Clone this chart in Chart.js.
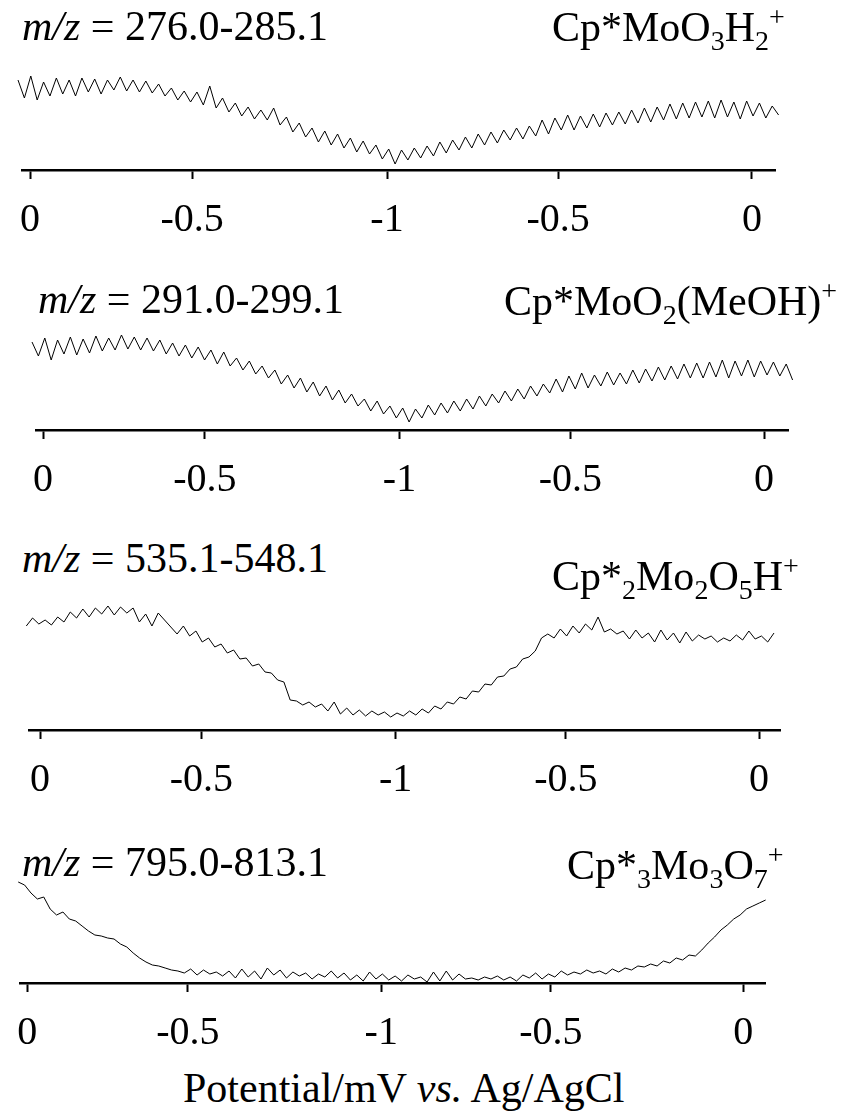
<!DOCTYPE html>
<html>
<head>
<meta charset="utf-8">
<script src="https://cdn.jsdelivr.net/npm/chart.js@4.4.1/dist/chart.umd.min.js"></script>
<style>
  body { margin: 0; background: #fff; }
  #page { position: relative; width: 844px; height: 1111px; overflow: hidden; background: #fff;
          font-family: "Liberation Serif", "Times New Roman", serif; color: #000; }
  canvas { position: absolute; left: 0; }
  .lbl { position: absolute; font-size: 42px; line-height: 42px; white-space: nowrap; z-index: 2; }
  .lbl sub, .lbl sup { font-size: 28px; line-height: 0; }
  .lbl sub { vertical-align: -9px; }
  .lbl sup { vertical-align: 15px; }
</style>
</head>
<body>
<div id="page">
  <canvas id="c1" width="844" height="220"></canvas>
  <canvas id="c2" width="844" height="220"></canvas>
  <canvas id="c3" width="844" height="220"></canvas>
  <canvas id="c4" width="844" height="220"></canvas>

  <div class="lbl" style="left:22px; top:5px;"><i>m/z</i> = 276.0-285.1</div>
  <div class="lbl" style="left:552px; top:6px;">Cp*MoO<sub>3</sub>H<sub>2</sub><sup>+</sup></div>

  <div class="lbl" style="left:38px; top:278px;"><i>m/z</i> = 291.0-299.1</div>
  <div class="lbl" style="left:504px; top:280px;">Cp*MoO<sub>2</sub>(MeOH)<sup>+</sup></div>

  <div class="lbl" style="left:22px; top:537px;"><i>m/z</i> = 535.1-548.1</div>
  <div class="lbl" style="left:552px; top:555px;">Cp*<sub>2</sub>Mo<sub>2</sub>O<sub>5</sub>H<sup>+</sup></div>

  <div class="lbl" style="left:22px; top:841px;"><i>m/z</i> = 795.0-813.1</div>
  <div class="lbl" style="left:567px; top:844px;">Cp*<sub>3</sub>Mo<sub>3</sub>O<sub>7</sub><sup>+</sup></div>

  <div class="lbl" style="left:183px; top:1067px;">Potential/mV <i>vs.</i> Ag/AgCl</div>
</div>
<script>
// scan time of the tick marks (0 -> -1 V -> 0 sweep) and their potential labels
const tickTimes = [0, 44.9, 98.9, 146.3, 200];
const tickLabels = ['0', '-0.5', '-1', '-0.5', '0'];

// ion intensity traces (a.u.), evenly sampled over each scan
const mz276 = [90, 72, 94, 70, 88, 74, 92, 76, 90, 74, 92, 78, 91, 76, 90, 80, 93, 79, 90, 78,
  89, 77, 86, 74, 82, 70, 79, 68, 78, 65, 84, 62, 72, 58, 67, 54, 63, 51, 60, 50,
  62, 45, 53, 38, 47, 33, 42, 28, 39, 25, 36, 22, 32, 18, 29, 16, 25, 11, 21, 6,
  20, 10, 22, 12, 24, 14, 28, 17, 30, 20, 33, 22, 36, 25, 38, 27, 40, 30, 42, 31,
  44, 34, 50, 36, 52, 40, 55, 40, 54, 42, 56, 43, 57, 45, 58, 46, 60, 47, 62, 48,
  63, 50, 66, 51, 67, 52, 68, 53, 69, 52, 70, 53, 68, 51, 69, 54, 67, 52, 64, 55, 66];

const mz291 = [88, 74, 92, 70, 90, 76, 93, 75, 91, 77, 94, 79, 92, 80, 95, 81, 93, 80, 92, 79,
  90, 76, 87, 74, 85, 72, 83, 70, 80, 66, 78, 64, 72, 60, 69, 56, 64, 52, 60, 46,
  55, 42, 52, 38, 48, 34, 44, 30, 40, 27, 36, 24, 31, 19, 29, 16, 24, 12, 22, 8,
  21, 12, 25, 15, 27, 17, 29, 19, 31, 21, 34, 24, 36, 27, 39, 29, 41, 31, 44, 34,
  46, 37, 51, 38, 54, 41, 57, 42, 55, 44, 58, 45, 57, 46, 60, 47, 61, 49, 63, 50,
  64, 51, 66, 52, 67, 52, 68, 53, 70, 52, 69, 54, 70, 53, 69, 55, 68, 54, 66, 50, 64];

const mz535 = [116, 104, 112, 106, 110, 105, 113, 108, 118, 112, 121, 113, 122, 116, 124, 115, 123, 117, 122, 108,
  116, 104, 117, 110, 103, 96, 104, 94, 99, 88, 92, 83, 86, 77, 80, 71, 72, 64, 66, 58,
  57, 50, 48, 30, 29, 25, 28, 23, 26, 19, 28, 16, 22, 15, 20, 14, 19, 15, 18, 13,
  17, 14, 19, 15, 21, 17, 24, 21, 28, 26, 33, 31, 39, 38, 46, 45, 53, 54, 61, 63,
  71, 73, 79, 92, 96, 92, 101, 94, 104, 97, 106, 100, 113, 98, 101, 96, 99, 91, 100, 92,
  97, 88, 100, 90, 97, 87, 98, 89, 95, 91, 94, 88, 92, 89, 95, 90, 99, 91, 94, 88, 97];

const mz795 = [101, 98, 90, 84, 86, 74, 68, 71, 64, 62, 57, 52, 48, 47, 45, 44, 39, 36, 30, 25,
  21, 18, 17, 15, 13, 12, 10, 14, 8, 13, 9, 11, 7, 12, 5, 14, 6, 12, 4, 15,
  8, 13, 5, 11, 7, 10, 4, 9, 6, 12, 5, 10, 3, 8, 2, 11, 4, 9, 3, 7,
  2, 8, 4, 6, 1, 11, 2, 12, 3, 9, 4, 5, 3, 6, 4, 7, 3, 6, 2, 8,
  5, 10, 4, 9, 6, 12, 8, 11, 9, 13, 10, 12, 9, 14, 11, 15, 13, 17, 16, 19,
  17, 22, 20, 25, 23, 28, 27, 33, 40, 46, 53, 58, 64, 68, 74, 77, 80, 83, 86, 88, 91];

// panel placement on the page (pixels)
const panels = [
  { id: 'c1', values: mz276, axisY: 170, zeroX: 30, lastX: 752, axisL: 22, axisR: 775, traceL: 18, traceR: 785 },
  { id: 'c2', values: mz291, axisY: 430, zeroX: 43, lastX: 764, axisL: 36, axisR: 788, traceL: 32, traceR: 799 },
  { id: 'c3', values: mz535, axisY: 730, zeroX: 40, lastX: 759, axisL: 29, axisR: 780, traceL: 20, traceR: 774 },
  { id: 'c4', values: mz795, axisY: 983, zeroX: 21, lastX: 743, axisL: 14, axisR: 765, traceL: 12, traceR: 785 }
];

const plotH = 140;
const scaleH = 80;

panels.forEach(p => {
  const canvas = document.getElementById(p.id);
  canvas.style.top = (p.axisY - plotH) + 'px';
  const ppu = (p.lastX - p.zeroX) / 200;
  const tStart = (p.traceL - p.zeroX) / ppu;
  const tEnd = (p.traceR - p.zeroX) / ppu;
  const n = p.values.length;
  const pts = p.values.map((v, i) => ({ x: tStart + i * (tEnd - tStart) / (n - 1), y: v }));

  new Chart(canvas.getContext('2d'), {
    type: 'line',
    data: {
      datasets: [{
        data: pts,
        borderColor: '#000',
        borderWidth: 1,
        pointRadius: 0,
        tension: 0,
        fill: false,
        clip: false
      }]
    },
    options: {
      responsive: false,
      animation: false,
      events: [],
      layout: { padding: { left: p.axisL, right: 844 - p.axisR, top: 0, bottom: 0 } },
      plugins: { legend: { display: false }, tooltip: { enabled: false } },
      scales: {
        x: {
          type: 'linear',
          min: (p.axisL - p.zeroX) / ppu,
          max: (p.axisR - p.zeroX) / ppu,
          afterBuildTicks: s => { s.ticks = tickTimes.map(v => ({ value: v })); },
          afterFit: s => { s.height = scaleH; },
          border: { display: true, color: '#000', width: 2.5 },
          grid: { drawOnChartArea: false, drawTicks: true, tickLength: 9, tickColor: '#000', tickWidth: 2 },
          ticks: {
            autoSkip: false,
            maxRotation: 0,
            padding: 17,
            color: '#000',
            font: { family: '"Liberation Serif", "Times New Roman", serif', size: 40 },
            callback: (v, i) => tickLabels[i]
          }
        },
        y: { display: false, min: 0, max: plotH }
      }
    }
  });
});
</script>
</body>
</html>
